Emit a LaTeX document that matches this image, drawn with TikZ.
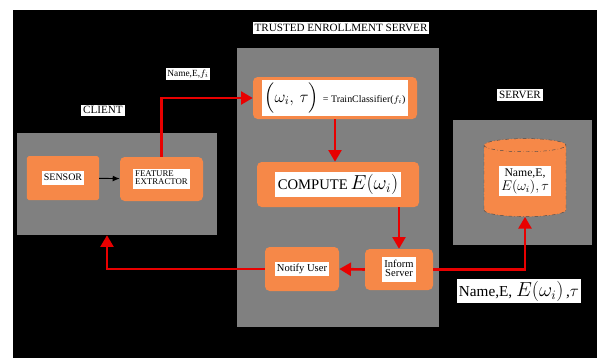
\documentclass[tikz,border=0pt]{standalone}
\usepackage{amsmath}
\usepackage{fontspec}
\setmainfont{Liberation Serif}
\usetikzlibrary{arrows.meta, positioning, calc, shapes.geometric}
\definecolor{boxorange}{RGB}{246,136,72}
\definecolor{panelgray}{RGB}{128,128,128}
\definecolor{flowred}{RGB}{232,0,0}
\newcommand{\wtxt}[2][c]{{\setlength{\fboxsep}{2pt}\renewcommand{\arraystretch}{0.85}%
  \colorbox{white}{\begin{tabular}{@{}#1@{}}#2\end{tabular}}}}
\newcommand{\fs}[1]{\fontsize{#1}{#1}\selectfont}

\begin{document}
\begin{tikzpicture}[x=0.03cm, y=-0.03cm,
  panel/.style={fill=panelgray, inner sep=0pt},
  obox/.style={fill=boxorange, rounded corners=4pt, inner sep=0pt, align=center},
  tag/.style={fill=white, inner sep=1.5pt, font=\fs{9.5}},
  store/.style={cylinder, shape border rotate=90, aspect=0.25, fill=boxorange,
                draw=black!70, dash dot, thin, minimum width=2.46cm,
                minimum height=2.34cm, inner sep=0pt},
  flow/.style={-{Triangle[length=10pt,width=11pt]}, flowred, line width=2.2pt},
  link/.style={-{Latex[length=6pt,width=5pt]}, black, line width=0.8pt}
]
\useasboundingbox (0,0) rectangle (597,358);
\fill[white] (0,0) rectangle (597,358);
\fill[black] (13,10) rectangle (597,358);
%% PANELS
\node[panel, minimum width=6cm, minimum height=3.06cm] (client) at (117,184) {};
\node[panel, minimum width=6.06cm, minimum height=8.37cm] (tes) at (338,187.5) {};
\node[panel, minimum width=4.17cm, minimum height=3.75cm] (srvp) at (522.5,182.5) {};
\node[tag] (clientlbl) at (103,110) {CLIENT};
\node[tag] (teslbl) at (341,28) {TRUSTED ENROLLMENT SERVER};
\node[tag] (srvlbl) at (520,95) {SERVER};
%% CLIENT
\node[obox, rounded corners=1.5pt, minimum width=2.16cm, minimum height=1.32cm,
      font=\fs{8.5}] (sensor) at (63,178) {\wtxt{SENSOR}};
\node[obox, minimum width=2.49cm, minimum height=1.32cm, font=\fs{7.5}]
      (feat) at (161.5,179) {\wtxt[l]{FEATURE\\EXTRACTOR}};
\draw[link] (sensor) -- (feat);
%% TRUSTED ENROLLMENT SERVER
\node[obox, minimum width=4.92cm, minimum height=1.26cm] (train) at (335,98)
  {\wtxt{\fs{14}$\Bigl(\omega_i,\,\tau\Bigr)$ {\fs{8.5}= TrainClassifier($f_i$)}}};
\node[obox, minimum width=4.86cm, minimum height=1.35cm] (compute) at (338,184.5)
  {\wtxt{{\fs{12.5}COMPUTE} {\fs{16}$E(\omega_i)$}}};
\node[obox, minimum width=2.22cm, minimum height=1.32cm, font=\fs{9}]
      (notify) at (302,269) {\wtxt{Notify User}};
\node[obox, minimum width=2.04cm, minimum height=1.23cm, font=\fs{9}]
      (inform) at (399,269.5) {\wtxt{Inform\\Server}};
%% SERVER
\node[store] (db) at (525,181) {\wtxt{{\fs{10}Name,E,}\\{\fs{11.5}$E(\omega_i),\tau$}}};
%% LABELS ON FLOWS
\node[tag, font=\fs{8}] (sendlbl) at (188,74) {Name,E,$f_i$};
\node[tag, inner sep=2pt, font=\fs{13}] (storelbl) at (519,291)
  {Name,E, {\fs{16}$E(\omega_i)$}\,,{\fs{15}$\tau$}};
%% FLOWS
\draw[flow] (feat.north) |- (train.west);
\draw[flow] (train.south) -- (train.south |- compute.north);
\draw[flow] (inform.north |- compute.south) -- (inform.north);
\draw[flow] (inform.west) -- (notify.east);
\draw[flow] (inform.east) -| (db.south);
\draw[flow] (notify.west) -| ([xshift=-0.3cm]client.south);
\end{tikzpicture}
\end{document}
